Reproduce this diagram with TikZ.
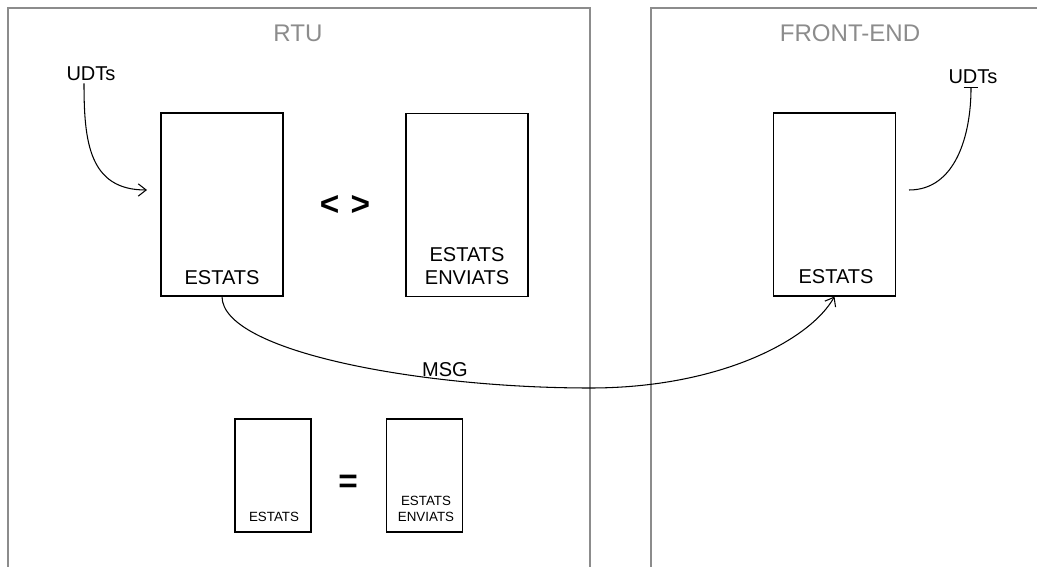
\documentclass[tikz,border=0pt]{standalone}
\usepackage{fontspec}
\setmainfont{Liberation Sans}
\usetikzlibrary{arrows.meta}
\definecolor{framegray}{RGB}{140,140,140}

\begin{document}
\begin{tikzpicture}[x=0.02cm, y=-0.02cm,
	frame/.style={draw=framegray, line width=0.6pt},
	bigbox/.style={draw, line width=0.6pt, minimum width=2.44cm, minimum height=3.66cm, inner sep=0pt},
	smallbox/.style={draw, line width=0.6pt, minimum width=1.52cm, minimum height=2.26cm, inner sep=0pt},
	txt/.style={font=\fontsize{11.4}{13}\selectfont, inner sep=0pt, align=center},
	smalltxt/.style={font=\fontsize{7.6}{9}\selectfont, inner sep=0pt, align=center},
	title/.style={font=\fontsize{13.7}{16}\selectfont, text=framegray, inner sep=0pt},
	sign/.style={font=\fontsize{19}{21}\selectfont\bfseries, inner sep=0pt},
	link/.style={line width=0.6pt, -{Straight Barb[length=4.5pt,width=7pt]}}]
	%%%%% START %%%%%
	
	\useasboundingbox (0,0) rectangle (1037,567);
	
	\draw[frame] (8,567) -- (8,8) -- (590,8) -- (590,567);
	\draw[frame] (651,567) -- (651,8) -- (1037,8);
	
	\node[title] (rtu) at (298,33) {RTU};
	\node[title] (fe) at (850,33) {FRONT-END};
	
	\node[txt] (udt1) at (91,74) {UDTs};
	\node[txt] (udt2) at (973,77) {UDTs};
	
	\node[bigbox] (est) at (222,204.5) {};
	\node[txt] (estlbl) at (222,278) {ESTATS};
	\node[sign] (neq) at (345,205) {<\,\,>};
	\node[bigbox] (env) at (467,205) {};
	\node[txt] (envlbl) at (467,266.5) {ESTATS\\ENVIATS};
	
	\node[bigbox] (fest) at (834.5,204.5) {};
	\node[txt] (festlbl) at (836,277) {ESTATS};
	
	\node[smallbox] (sest) at (273,475.5) {};
	\node[smalltxt] (sestlbl) at (274,517) {ESTATS};
	\node[sign] (eq) at (348,484) {=};
	\node[smallbox] (senv) at (424.5,475.5) {};
	\node[smalltxt] (senvlbl) at (426,509) {ESTATS\\ENVIATS};
	
	\node[txt] (msg) at (445,370) {MSG};
	
	\coordinate (udtin) at (147,190);
	\coordinate (udtout) at (909,190);
	\coordinate (msglow) at (590,388);
	
	\draw[link] ([xshift=-0.14cm, yshift=-0.04cm]udt1.south) to[out=-90, in=180, looseness=1.2] (udtin);
	\draw[line width=0.6pt, {Bar[width=8.5pt]}-] ([xshift=-0.04cm, yshift=-0.06cm]udt2.south) to[out=-90, in=0] (udtout);
	
	\draw[link] (est.south) .. controls +(0,55) and (420,388) .. (msglow)
		.. controls (720,388) and (810,340) .. (fest.south);
	
	%%%%% END %%%%%
\end{tikzpicture}
\end{document}
